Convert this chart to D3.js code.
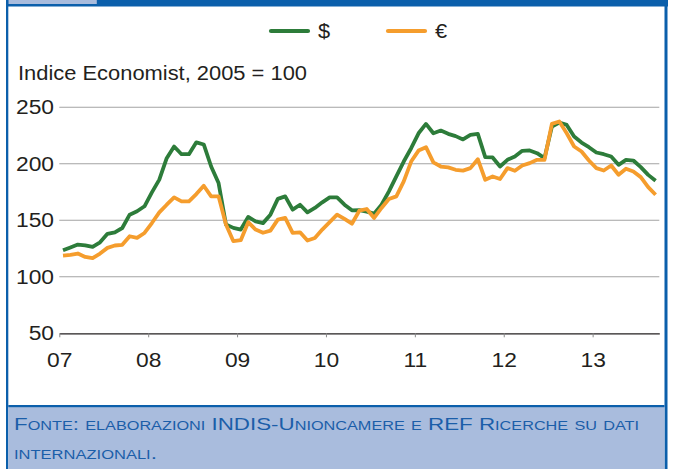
<!DOCTYPE html>
<html>
<head>
<meta charset="utf-8">
<script src="https://cdn.jsdelivr.net/npm/d3@7"></script>
<style>
  body { margin: 0; background: #fff; }
  svg { display: block; }
  text { font-family: "Liberation Sans", Arial, sans-serif; fill: #231f20; }
</style>
</head>
<body>
<div id="chart"></div>
<script>
// year labels (one tick every 12 months from Jan 2007)
const years = ["07", "08", "09", "10", "11", "12", "13"];
const yTicks = [50, 100, 150, 200, 250];

// monthly values, Jan 2007 -> Sep 2013
const dollar = [
  123.5, 126, 128.5, 127.9, 126.5, 130.5, 138, 139.4, 143.2, 155, 158, 162.4,
  174.7, 186, 205, 215.3, 208.5, 208.5, 219, 217.1, 197.6, 183, 146.2, 143.3,
  141.8, 153, 149, 147.5, 155, 169, 171.2, 159.4, 163.8, 157, 160.9, 165.9,
  170.3, 170.3, 163.8, 158.8, 159, 157.7, 155.9, 163.8, 175.6, 188.8, 202, 213.8,
  227, 235.3, 227, 229.4, 226.5, 224.5, 221.6, 225.6, 226.5, 205.9, 205.6, 197.6,
  203.5, 206.5, 211.5, 211.8, 209.4, 205, 232.9, 236.5, 234.4, 224.1, 218.8, 214.7,
  210, 208.5, 206.5, 199.1, 203.5, 202.9, 197, 190.2, 185
];
const euro = [
  118.8, 119.4, 120.6, 117.6, 116.5, 120.6, 125.6, 127.7, 128.3, 135.9, 134.4, 138.8,
  147.6, 157, 163.8, 170.3, 166.8, 166.8, 173.2, 180.6, 171.2, 171.2, 146.2, 131.5,
  132.4, 148.3, 141.8, 139, 140.9, 150.6, 152.1, 138.8, 139.4, 132.1, 134.4, 141.8,
  148.3, 155, 151.2, 147, 158.5, 160, 152.1, 160.9, 168.8, 171.2, 184.4, 202,
  211.7, 214.7, 201.2, 197.6, 196.8, 194.7, 194, 196.2, 204.1, 185.9, 188.8, 186.5,
  196.2, 193.8, 198.5, 200.6, 203.5, 203.5, 235.3, 237.4, 227, 215.3, 210.9, 202.9,
  196.2, 194.1, 198.5, 190.3, 195.6, 193.2, 188.2, 179.4, 172.6
];

const seriesNames = ["$", "€"];
const seriesColors = ["#2d7c3a", "#f59d2d"];
const title = "Indice Economist, 2005 = 100";
const sourceLines = ["Fonte: elaborazioni INDIS-Unioncamere e REF Ricerche su dati", "internazionali."];

const width = 673, height = 469;
const blue = "#0b5fab", lightBlue = "#a9bcdd";
const stretch = "scale(1.17,1)";

const svg = d3.select("#chart").append("svg")
  .attr("width", width)
  .attr("height", height);

// frame
svg.append("rect").attr("x", 6).attr("y", 0).attr("width", 662).attr("height", 6.5).attr("fill", blue);
svg.append("rect").attr("x", 8.3).attr("y", 0).attr("width", 88.5).attr("height", 4).attr("fill", lightBlue);
svg.append("rect").attr("x", 6).attr("y", 0).attr("width", 2.3).attr("height", height).attr("fill", blue);
svg.append("rect").attr("x", 664.5).attr("y", 0).attr("width", 3).attr("height", height).attr("fill", blue);
svg.append("rect").attr("x", 8.3).attr("y", 405).attr("width", 656.2).attr("height", height - 405).attr("fill", lightBlue);
svg.append("rect").attr("x", 8.3).attr("y", 405).attr("width", 656.2).attr("height", 2.2).attr("fill", blue);

// scales: months since Jan 2007
const x = d3.scaleLinear().domain([0, 81]).range([59.3, 659.3]);
const y = d3.scaleLinear().domain([50, 250]).range([333.3, 107.3]);

// grid
svg.append("g").selectAll("line")
  .data(yTicks.filter(d => d > 50))
  .join("line")
  .attr("x1", x(0)).attr("x2", x(81))
  .attr("y1", d => y(d)).attr("y2", d => y(d))
  .attr("stroke", "#a3a3a3")
  .attr("stroke-width", 1.1);

// y axis labels
const yAxis = svg.append("g")
  .attr("transform", `translate(${x(0)},0)`)
  .call(d3.axisLeft(y).tickValues(yTicks).tickSize(0).tickPadding(4.5));
yAxis.select(".domain").remove();
yAxis.selectAll("text")
  .attr("font-size", 19.5)
  .attr("font-family", null)
  .attr("fill", "#2a2627")
  .attr("transform", stretch);

// x axis
const xAxis = svg.append("g")
  .attr("transform", `translate(0,${y(50)})`)
  .call(d3.axisBottom(x)
    .tickValues(years.map((d, i) => i * 12))
    .tickFormat((d, i) => years[i])
    .tickSize(4)
    .tickSizeOuter(0)
    .tickPadding(16));
xAxis.select(".domain").attr("stroke", "#231f20").attr("stroke-width", 1.3);
xAxis.selectAll(".tick line").attr("stroke", "#8a8a8a");
xAxis.selectAll("text")
  .attr("font-size", 19.5)
  .attr("font-family", null)
  .attr("fill", "#2a2627")
  .attr("transform", stretch);

// lines
const line = d3.line()
  .x((d, i) => x(i + 0.5))
  .y(d => y(d));

svg.append("g").selectAll("path")
  .data([dollar, euro])
  .join("path")
  .attr("d", line)
  .attr("fill", "none")
  .attr("stroke", (d, i) => seriesColors[i])
  .attr("stroke-width", 3.8)
  .attr("stroke-linejoin", "round");

// title
svg.append("text")
  .attr("x", 18)
  .attr("y", 80)
  .attr("font-size", 19.5)
  .attr("textLength", 289)
  .attr("lengthAdjust", "spacingAndGlyphs")
  .text(title);

// legend
const legendX = [271, 388];
const lg = svg.append("g").selectAll("g")
  .data(seriesNames)
  .join("g")
  .attr("transform", (d, i) => `translate(${legendX[i]},31)`);
lg.append("line")
  .attr("x1", 0).attr("x2", 37)
  .attr("stroke", (d, i) => seriesColors[i])
  .attr("stroke-width", 4.2)
  .attr("stroke-linecap", "round");
lg.append("text")
  .attr("x", 42)
  .attr("y", 7)
  .attr("font-size", 19.5)
  .attr("transform", "scale(1.12,1)")
  .text(d => d);

// source note
svg.append("g").selectAll("text")
  .data(sourceLines)
  .join("text")
  .attr("x", 14)
  .attr("y", (d, i) => 430 + i * 29)
  .attr("font-size", 16.5)
  .style("fill", "#1b5ea9")
  .style("font-variant", "small-caps")
  .attr("textLength", (d, i) => i === 0 ? 625 : 143)
  .attr("lengthAdjust", "spacingAndGlyphs")
  .text(d => d);
</script>
</body>
</html>
